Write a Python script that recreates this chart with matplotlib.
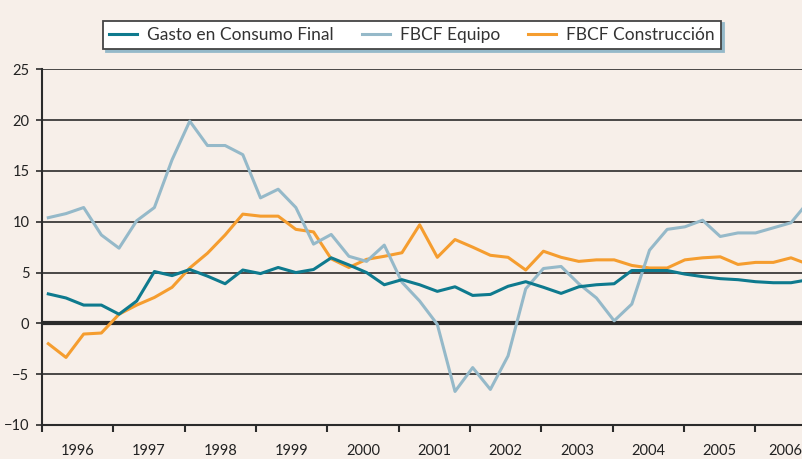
import matplotlib
matplotlib.use('Agg')
import matplotlib.pyplot as plt
import numpy as np

# Tasas de variación trimestrales, 1996T1 - 2006T4
years = ['1996', '1997', '1998', '1999', '2000', '2001', '2002', '2003', '2004', '2005', '2006']

gasto = [2.9, 2.5, 1.8, 1.8, 0.9, 2.2, 5.1, 4.7, 5.3, 4.65, 3.9, 5.25,
         4.9, 5.5, 5.0, 5.3, 6.45, 5.75, 5.0, 3.8, 4.3, 3.8, 3.15, 3.6,
         2.75, 2.85, 3.65, 4.1, 3.55, 2.95, 3.6, 3.8, 3.9, 5.2, 5.2, 5.2,
         4.85, 4.6, 4.4, 4.3, 4.1, 4.0, 4.0, 4.3]

equipo = [10.4, 10.8, 11.4, 8.7, 7.4, 10.1, 11.4, 16.1, 19.9, 17.5, 17.5, 16.6,
          12.35, 13.2, 11.4, 7.8, 8.75, 6.6, 6.1, 7.7, 4.05, 2.2, -0.1, -6.7,
          -4.35, -6.5, -3.2, 3.4, 5.4, 5.6, 3.9, 2.5, 0.25, 1.9, 7.2, 9.25,
          9.5, 10.15, 8.55, 8.9, 8.9, 9.4, 9.9, 12.0]

construccion = [-2.0, -3.35, -1.05, -0.95, 0.9, 1.8, 2.55, 3.55, 5.45, 6.9, 8.7, 10.75,
                10.55, 10.55, 9.25, 9.0, 6.35, 5.5, 6.3, 6.6, 6.95, 9.7, 6.5, 8.25,
                7.5, 6.7, 6.5, 5.25, 7.1, 6.5, 6.1, 6.25, 6.25, 5.7, 5.45, 5.45,
                6.25, 6.45, 6.55, 5.8, 6.0, 6.0, 6.45, 5.8]

c_gasto = '#0e7a8e'
c_equipo = '#95b9c9'
c_constr = '#f59d2f'
fondo = '#f7efe9'

fig = plt.figure(figsize=(8.03, 4.59), dpi=100, facecolor=fondo)
ax = fig.add_axes([42 / 803, 34 / 459, 761 / 803, 355.7 / 459], facecolor=fondo)

x = np.arange(len(gasto))
ax.plot(x, gasto, color=c_gasto, lw=2.2, label='Gasto en Consumo Final', zorder=5)
ax.plot(x, equipo, color=c_equipo, lw=2.2, label='FBCF Equipo', zorder=4)
ax.plot(x, construccion, color=c_constr, lw=2.2, label='FBCF Construcción', zorder=3)

# rejilla horizontal
for v in range(-5, 30, 5):
    ax.axhline(v, color='#2b2b2b', lw=1.2 if v != 0 else 3.0, zorder=1)

ax.set_yticks(range(-10, 30, 5))

xmin, xmax = -0.356, 42.68

# separadores de año y etiquetas centradas
paso = 4.033
bordes = [xmin + paso * k for k in range(len(years) + 1)]
centros = [b + paso / 2 for b in bordes[:-1]]
centros[-1] = min(centros[-1], xmax - 1.0)  # que 2006 no quede cortado
ax.set_xticks(bordes)
ax.set_xticklabels([])
ax.set_xticks(centros, minor=True)
ax.set_xticklabels(years, minor=True)
ax.tick_params(axis='x', which='major', direction='out', length=5, width=1.5, color='#2b2b2b')
ax.tick_params(axis='x', which='minor', length=0, pad=14, labelsize=10.5, labelcolor='#222222')
ax.tick_params(axis='y', direction='out', length=4, width=1.2, color='#2b2b2b',
               labelsize=10.5, labelcolor='#222222', pad=5)

# límites después de los ticks (set_xticks amplía la vista)
ax.set_xlim(xmin, xmax)
ax.set_ylim(-10, 25)

for s in ['top', 'right']:
    ax.spines[s].set_visible(False)
ax.spines['left'].set_color('#2b2b2b')
ax.spines['left'].set_linewidth(1.5)
ax.spines['bottom'].set_color('#2b2b2b')
ax.spines['bottom'].set_linewidth(1.5)

for t in ax.get_xticklabels(minor=True) + ax.get_yticklabels():
    t.set_family('Lato')

leg = fig.legend(loc='upper center', bbox_to_anchor=(412 / 803, 1 - 12 / 459), ncol=3,
                 frameon=True, fancybox=False, shadow={'color': c_equipo, 'alpha': 1},
                 prop={'family': 'Lato', 'size': 12.5}, handlelength=1.6,
                 columnspacing=1.6, borderpad=0.35, handletextpad=0.6)
leg.get_frame().set_edgecolor('#444444')
leg.get_frame().set_linewidth(1.3)
leg.get_frame().set_facecolor('white')
for t in leg.get_texts():
    t.set_color('#333333')

fig.savefig('out.png', dpi=100, facecolor=fondo)
